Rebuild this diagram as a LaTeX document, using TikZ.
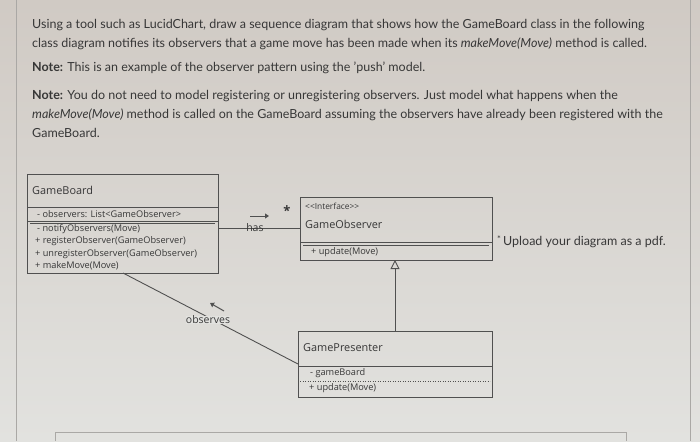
\documentclass[tikz,border=0pt]{standalone}
\usepackage{fontspec}
\setmainfont{Lato}
\newfontfamily\diagfont{Open Sans}
\usetikzlibrary{arrows.meta}
\definecolor{bgtop}{RGB}{208,202,196}
\definecolor{bgbot}{RGB}{226,226,223}
\definecolor{ink}{RGB}{55,55,55}
\definecolor{boxline}{RGB}{80,80,80}
\definecolor{frame}{RGB}{170,168,165}
\tikzset{
  qtext/.style={anchor=west, inner sep=0pt, text=ink, font=\fontsize{12.5}{14}\selectfont},
  dsmall/.style={anchor=west, inner sep=0pt, text=ink, font=\diagfont\fontsize{9.2}{10}\selectfont},
  dtitle/.style={anchor=west, inner sep=0pt, text=ink, font=\diagfont\fontsize{10.9}{12}\selectfont},
  dlabel/.style={inner sep=0pt, text=ink, font=\diagfont\fontsize{10.5}{11}\selectfont},
  umlbox/.style={draw=boxline, line width=0.9pt},
  conn/.style={draw=boxline, line width=0.9pt},
}
\begin{document}
\begin{tikzpicture}[x=1pt,y=-1pt]
\useasboundingbox (0,0) rectangle (700,441);
\shade[top color=bgtop, bottom color=bgbot] (0,0) rectangle (700,441);
% page frame
\draw[frame, line width=0.8pt] (16,0) -- (16,441);
\draw[frame, line width=0.8pt] (690,0) -- (690,441);
\draw[frame, line width=0.8pt] (55,441) -- (55,432) -- (626,432) -- (626,441);
% question text
\node[qtext] (q1) at (32,25) {Using a tool such as LucidChart, draw a sequence diagram that shows how the GameBoard class in the following};
\node[qtext] (q2) at (32,44) {class diagram notifies its observers that a game move has been made when its \textit{makeMove(Move)} method is called.};
\node[qtext] (q3) at (32,68) {\textbf{Note:} This is an example of the observer pattern using the 'push' model.};
\node[qtext] (q4) at (32,96) {\textbf{Note:} You do not need to model registering or unregistering observers. Just model what happens when the};
\node[qtext] (q5) at (32,115) {\textit{makeMove(Move)} method is called on the GameBoard assuming the observers have already been registered with the};
\node[qtext] (q6) at (32,133) {GameBoard.};
% GameBoard class
\draw[umlbox] (27,174) rectangle (218,273);
\draw[umlbox] (27,207) -- (218,207);
\draw[boxline, line width=0.5pt] (27,221) -- (218,221);
\draw[boxline, line width=0.5pt] (30,223) -- (215,223);
\coordinate (gbR) at (218,228);
\coordinate (gbB) at (123,273);
\node[dtitle] (gbt) at (32,190) {GameBoard};
\node[dsmall] (gba) at (37,214.5) {- observers: List<GameObserver>};
\node[dsmall] (gbm1) at (37,229.5) {- notifyObservers(Move)};
\node[dsmall] (gbm2) at (35,241.5) {+ registerObserver(GameObserver)};
\node[dsmall] (gbm3) at (35,254) {+ unregisterObserver(GameObserver)};
\node[dsmall] (gbm4) at (35,266) {+ makeMove(Move)};
% GameObserver interface
\draw[umlbox] (300,197) rectangle (492,260);
\draw[umlbox] (300,242) -- (492,242);
\draw[boxline, line width=0.5pt] (303,245) -- (489,245);
\coordinate (goL) at (300,228);
\coordinate (goB) at (395,260);
\node[dsmall, font=\diagfont\fontsize{8.4}{9}\selectfont] (gost) at (305,206) {<<Interface>>};
\node[dtitle] (got) at (305,224) {GameObserver};
\node[dsmall] (gom) at (311,252.5) {+ update(Move)};
% GamePresenter
\draw[umlbox] (298,331) rectangle (492,397);
\draw[umlbox] (298,366) -- (492,366);
\draw[boxline, line width=0.5pt, dotted] (300,381) -- (490,381);
\coordinate (gpT) at (395,331);
\coordinate (gpL) at (298,364);
\node[dtitle] (gpt) at (303,348) {GamePresenter};
\node[dsmall] (gpa) at (310,373) {- gameBoard};
\node[dsmall] (gpm) at (309,388.5) {+ update(Move)};
% has association
\draw[conn] (gbR) -- node[pos=0.45, dlabel] (has) {has} (goL);
\draw[-{Triangle[length=4pt,width=5pt]}, boxline, line width=1pt] (250,216) -- (269,216);
\node[inner sep=0pt, text=ink, font=\diagfont\bfseries\fontsize{13}{13}\selectfont] (star) at (287,211) {*};
% generalization
\draw[conn, -{Triangle[open,length=9pt,width=9pt]}] (gpT) -- (goB);
% observes association
\draw[conn] (gbB) -- (gpL);
\node[fill=bgbot, inner sep=1.5pt, dlabel, fill=bgbot] (obs) at (208,320) {observes};
\draw[-{Triangle[length=4pt,width=5pt]}, boxline, line width=1pt] (224,311) -- (210,303);
% side text
\node[inner sep=0pt, text=ink, font=\fontsize{9}{9}\selectfont] (ast) at (499,239) {*};
\node[qtext] (upl) at (503,242) {Upload your diagram as a pdf.};
\end{tikzpicture}
\end{document}
